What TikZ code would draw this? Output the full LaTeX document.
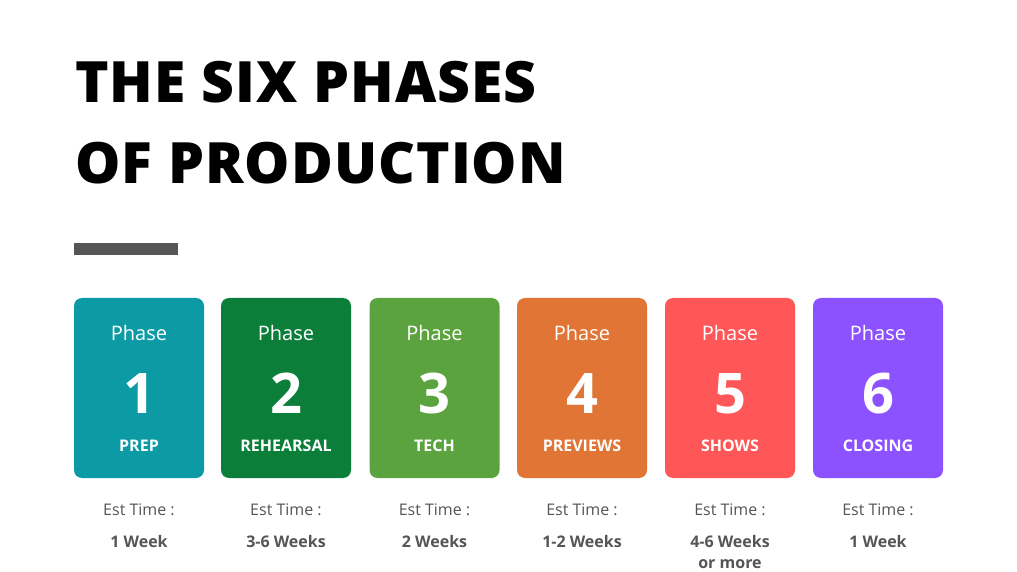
\documentclass[tikz,border=0pt]{standalone}
\usepackage{fontspec}
\setmainfont{Open Sans}
\IfFontExistsTF{OpenSans-ExtraBold.ttf}{\newfontfamily\titlefont{OpenSans-ExtraBold.ttf}[LetterSpace=1.8]}{%
  \newfontfamily\titlefont{Open Sans}[UprightFont={* Bold}, FakeBold=1.4, LetterSpace=5]}

\definecolor{prepcol}{HTML}{0C9BA5}
\definecolor{rehcol}{HTML}{0B7F3A}
\definecolor{techcol}{HTML}{5BA33E}
\definecolor{prevcol}{HTML}{E07535}
\definecolor{showcol}{HTML}{FF5757}
\definecolor{closecol}{HTML}{8C52FF}
\definecolor{textgray}{HTML}{555555}

\begin{document}
\begin{tikzpicture}[x=1pt, y=-1pt,
	card/.style={rounded corners=8pt, minimum width=130pt, minimum height=180pt, inner sep=0pt},
	phase/.style={anchor=base, text=white, font=\fontsize{20}{24}\selectfont},
	num/.style={anchor=base, text=white, font=\fontsize{56}{60}\selectfont\bfseries},
	plabel/.style={anchor=base, text=white, font=\fontsize{16}{19}\selectfont\bfseries},
	est/.style={anchor=base, text=textgray, font=\fontsize{16}{19}\selectfont},
	weeks/.style={anchor=base, text=textgray, font=\fontsize{16}{19}\selectfont\bfseries},
	title/.style={anchor=base west, inner sep=0pt, font=\fontsize{57}{60}\selectfont\titlefont}]
	\fill[white] (0,0) rectangle (1017,571);

	\node (T1) [title] at (75,103) {THE SIX PHASES};
	\node (T2) [title] at (75,184) {OF PRODUCTION};
	\fill[textgray] (74,243) rectangle (178,255);

	\node (C1) [card, fill=prepcol] at (139,388) {};
	\node (C2) [card, fill=rehcol] at (286,388) {};
	\node (C3) [card, fill=techcol] at (434.5,388) {};
	\node (C4) [card, fill=prevcol] at (582,388) {};
	\node (C5) [card, fill=showcol] at (730,388) {};
	\node (C6) [card, fill=closecol] at (878,388) {};

	\node (P1) [phase] at (139,340) {Phase};
	\node (P2) [phase] at (286,340) {Phase};
	\node (P3) [phase] at (434.5,340) {Phase};
	\node (P4) [phase] at (582,340) {Phase};
	\node (P5) [phase] at (730,340) {Phase};
	\node (P6) [phase] at (878,340) {Phase};

	\node (N1) [num] at (139,413) {1};
	\node (N2) [num] at (286,413) {2};
	\node (N3) [num] at (434.5,413) {3};
	\node (N4) [num] at (582,413) {4};
	\node (N5) [num] at (730,413) {5};
	\node (N6) [num] at (878,413) {6};

	\node (L1) [plabel] at (139,451) {PREP};
	\node (L2) [plabel] at (286,451) {REHEARSAL};
	\node (L3) [plabel] at (434.5,451) {TECH};
	\node (L4) [plabel] at (582,451) {PREVIEWS};
	\node (L5) [plabel] at (730,451) {SHOWS};
	\node (L6) [plabel] at (878,451) {CLOSING};

	\node (E1) [est] at (139,515) {Est Time :};
	\node (E2) [est] at (286,515) {Est Time :};
	\node (E3) [est] at (434.5,515) {Est Time :};
	\node (E4) [est] at (582,515) {Est Time :};
	\node (E5) [est] at (730,515) {Est Time :};
	\node (E6) [est] at (878,515) {Est Time :};

	\node (W1) [weeks] at (139,547) {1 Week};
	\node (W2) [weeks] at (286,547) {3-6 Weeks};
	\node (W3) [weeks] at (434.5,547) {2 Weeks};
	\node (W4) [weeks] at (582,547) {1-2 Weeks};
	\node (W5) [weeks] at (730,547) {4-6 Weeks};
	\node (W5b) [weeks] at (730,568) {or more};
	\node (W6) [weeks] at (878,547) {1 Week};
\end{tikzpicture}
\end{document}
